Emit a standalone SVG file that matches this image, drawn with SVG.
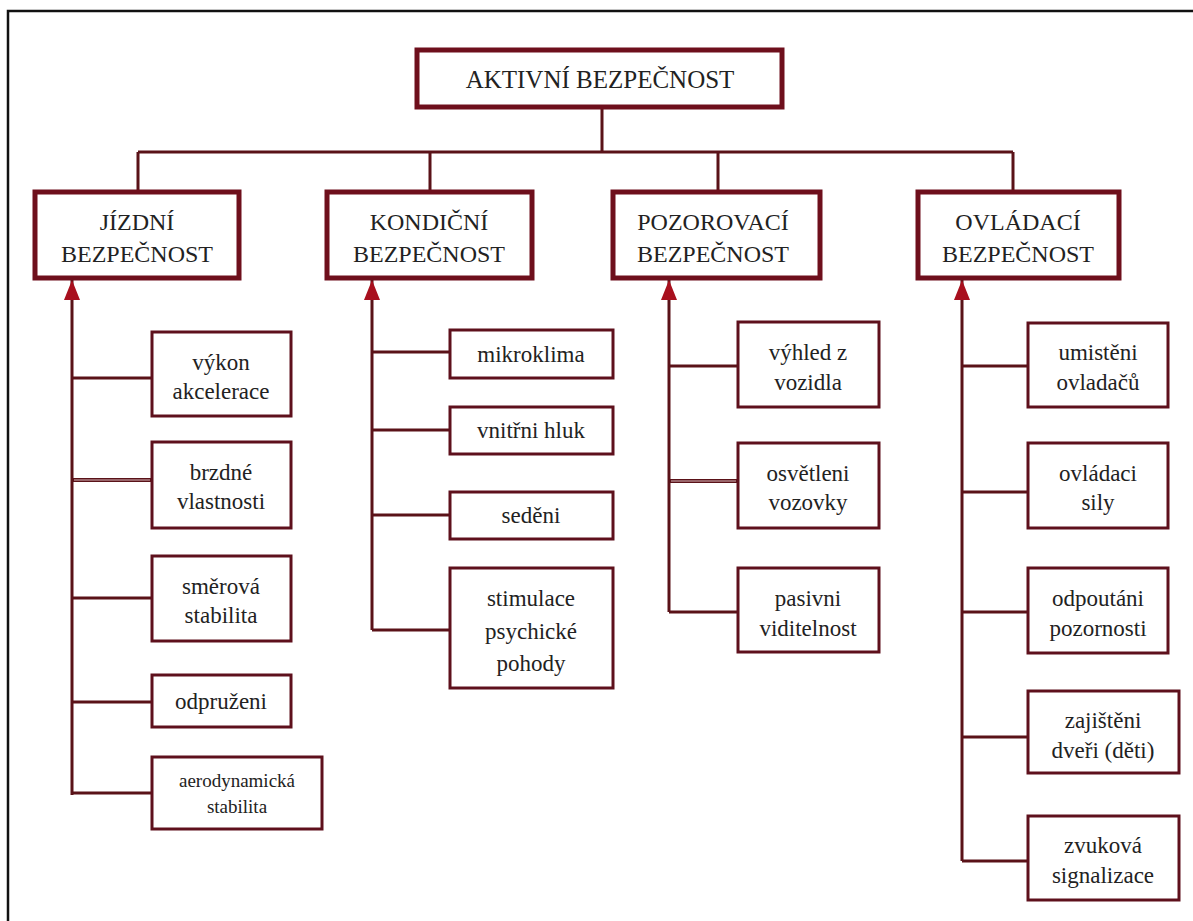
<svg xmlns="http://www.w3.org/2000/svg" width="1193" height="921" viewBox="0 0 1193 921">
<style>
.frame{stroke:#111;stroke-width:2.5;fill:none}
.big{fill:#fff;stroke:#6e0f1c;stroke-width:5}
.leaf{fill:#fff;stroke:#5e101c;stroke-width:3}
.con{stroke:#5a1218;stroke-width:3;fill:none}
.dbl{stroke:#5a1218;stroke-width:4;fill:none}
.gap{stroke:#d9b8bc;stroke-width:1;fill:none}
.lbl{fill:#222;text-anchor:middle;font-family:"Liberation Serif","DejaVu Serif",serif}
.t1{font-size:25px}
.t2{font-size:24px}
.t3{font-size:23px}
.t4{font-size:19px}
</style>
<defs>
<marker id="arr" viewBox="0 0 20 16" refX="20" refY="8" markerWidth="20" markerHeight="16" markerUnits="userSpaceOnUse" orient="auto">
<path d="M20 8 L0 0 L0 16 Z" fill="#a8101e"/>
</marker>
</defs>
<rect width="1193" height="921" fill="#fff"/>
<path class="frame" d="M8 921 V11 H1193"/>
<g id="connectors">
<path class="con" d="M602 107 V152 M138 152 H1013 M138 152 V192 M430 152 V192 M718 152 V192 M1013 152 V192"/>
<path class="con" d="M72 795 V280" marker-end="url(#arr)"/>
<path class="con" d="M72 378 H152 M72 598 H152 M72 702 H152 M72 793 H152"/>
<path class="dbl" d="M72 480 H152"/><path class="gap" d="M74 480 H150"/>
<path class="con" d="M372 630 V280" marker-end="url(#arr)"/>
<path class="con" d="M372 352 H450 M372 430 H450 M372 515 H450 M372 630 H450"/>
<path class="con" d="M669 612 V280" marker-end="url(#arr)"/>
<path class="con" d="M669 366 H738 M669 612 H738"/>
<path class="dbl" d="M669 481 H738"/><path class="gap" d="M671 481 H736"/>
<path class="con" d="M962 861 V280" marker-end="url(#arr)"/>
<path class="con" d="M962 366 H1028 M962 492 H1028 M962 612 H1028 M962 737 H1028 M962 861 H1028"/>
</g>
<g id="root"><rect class="big" x="417" y="50" width="365" height="57"/><text class="lbl t1" x="600" y="88">AKTIVNÍ BEZPEČNOST</text></g>
<g id="jizdni"><rect class="big" x="35" y="192" width="204" height="86"/><text class="lbl t2" x="137" y="230">JÍZDNÍ</text><text class="lbl t2" x="137" y="262">BEZPEČNOST</text></g>
<g id="kondicni"><rect class="big" x="327" y="192" width="205" height="86"/><text class="lbl t2" x="429" y="230">KONDIČNÍ</text><text class="lbl t2" x="429" y="262">BEZPEČNOST</text></g>
<g id="pozorovaci"><rect class="big" x="613" y="192" width="207" height="86"/><text class="lbl t2" x="713" y="230">POZOROVACÍ</text><text class="lbl t2" x="713" y="262">BEZPEČNOST</text></g>
<g id="ovladaci"><rect class="big" x="918" y="192" width="201" height="86"/><text class="lbl t2" x="1018" y="230">OVLÁDACÍ</text><text class="lbl t2" x="1018" y="262">BEZPEČNOST</text></g>

<g id="vykon"><rect class="leaf" x="152" y="332" width="139" height="84"/><text class="lbl t3" x="221" y="370">výkon</text><text class="lbl t3" x="221" y="399">akcelerace</text></g>
<g id="brzdne"><rect class="leaf" x="152" y="442" width="139" height="86"/><text class="lbl t3" x="221" y="480">brzdné</text><text class="lbl t3" x="221" y="509">vlastnosti</text></g>
<g id="smerova"><rect class="leaf" x="152" y="556" width="139" height="85"/><text class="lbl t3" x="221" y="594">směrová</text><text class="lbl t3" x="221" y="623">stabilita</text></g>
<g id="odpruzeni"><rect class="leaf" x="152" y="675" width="139" height="52"/><text class="lbl t3" x="221" y="709">odpruženi</text></g>
<g id="aerodynamicka"><rect class="leaf" x="152" y="757" width="170" height="72"/><text class="lbl t4" x="237" y="787">aerodynamická</text><text class="lbl t4" x="237" y="813">stabilita</text></g>

<g id="mikroklima"><rect class="leaf" x="450" y="330" width="163" height="48"/><text class="lbl t3" x="531" y="362">mikroklima</text></g>
<g id="hluk"><rect class="leaf" x="450" y="407" width="163" height="47"/><text class="lbl t3" x="531" y="438">vnitřni hluk</text></g>
<g id="sedeni"><rect class="leaf" x="450" y="492" width="163" height="47"/><text class="lbl t3" x="531" y="523">seděni</text></g>
<g id="stimulace"><rect class="leaf" x="450" y="568" width="163" height="120"/><text class="lbl t3" x="531" y="606">stimulace</text><text class="lbl t3" x="531" y="639">psychické</text><text class="lbl t3" x="531" y="671">pohody</text></g>

<g id="vyhled"><rect class="leaf" x="738" y="322" width="141" height="85"/><text class="lbl t3" x="808" y="360">výhled z</text><text class="lbl t3" x="808" y="390">vozidla</text></g>
<g id="osvetleni"><rect class="leaf" x="738" y="443" width="141" height="85"/><text class="lbl t3" x="808" y="481">osvětleni</text><text class="lbl t3" x="808" y="510">vozovky</text></g>
<g id="pasivni"><rect class="leaf" x="738" y="568" width="141" height="84"/><text class="lbl t3" x="808" y="606">pasivni</text><text class="lbl t3" x="808" y="636">viditelnost</text></g>

<g id="umisteni"><rect class="leaf" x="1028" y="323" width="140" height="84"/><text class="lbl t3" x="1098" y="360">umistěni</text><text class="lbl t3" x="1098" y="390">ovladačů</text></g>
<g id="ovladaci-sily"><rect class="leaf" x="1028" y="443" width="140" height="85"/><text class="lbl t3" x="1098" y="481">ovládaci</text><text class="lbl t3" x="1098" y="510">sily</text></g>
<g id="odpoutani"><rect class="leaf" x="1028" y="568" width="140" height="85"/><text class="lbl t3" x="1098" y="606">odpoutáni</text><text class="lbl t3" x="1098" y="636">pozornosti</text></g>
<g id="zajisteni"><rect class="leaf" x="1028" y="691" width="151" height="82"/><text class="lbl t3" x="1103" y="728">zajištěni</text><text class="lbl t3" x="1103" y="758">dveři (děti)</text></g>
<g id="zvukova"><rect class="leaf" x="1028" y="816" width="151" height="84"/><text class="lbl t3" x="1103" y="853">zvuková</text><text class="lbl t3" x="1103" y="883">signalizace</text></g>
</svg>
